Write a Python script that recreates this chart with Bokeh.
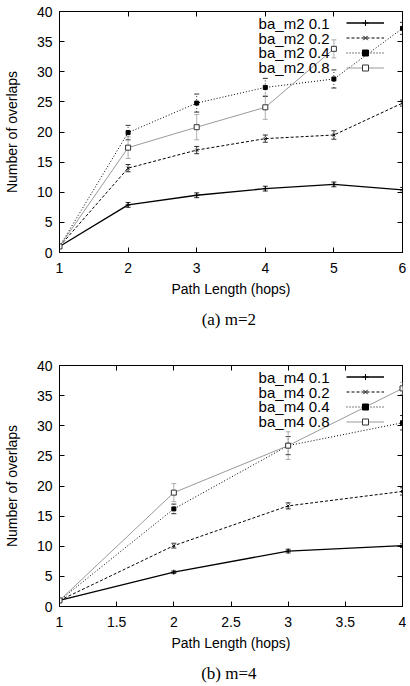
from bokeh.plotting import figure
from bokeh.models import (ColumnDataSource, Whisker, TeeHead, Legend, LegendItem, Label,
                          FixedTicker, LinearAxis, Title, CustomJSTickFormatter, Range1d)
from bokeh.layouts import column
from bokeh.embed import file_html
from bokeh.resources import INLINE

# ---------------- data ----------------
hops_a = [1, 2, 3, 4, 5, 6]
a_01 = [1.0, 7.9, 9.5, 10.6, 11.3, 10.4]
a_01_err = [0.0, 0.4, 0.4, 0.4, 0.4, 0.4]
a_02 = [1.0, 14.0, 17.0, 18.9, 19.5, 24.8]
a_02_err = [0.0, 0.6, 0.6, 0.6, 0.7, 0.5]
a_04 = [1.0, 19.9, 24.8, 27.4, 28.8, 37.2]
a_04_err = [0.0, 1.2, 1.5, 1.5, 1.5, 1.0]
hops_a8 = [1, 2, 3, 4, 5]
a_08 = [1.0, 17.4, 20.8, 24.1, 33.8]
a_08_err = [0.0, 1.8, 2.1, 2.0, 1.5]

hops_b = [1, 2, 3, 4]
b_01 = [1.0, 5.7, 9.2, 10.1]
b_01_err = [0.0, 0.2, 0.3, 0.3]
b_02 = [1.0, 10.1, 16.7, 19.1]
b_02_err = [0.0, 0.4, 0.5, 0.6]
b_04 = [1.0, 16.2, 26.7, 30.5]
b_04_err = [0.0, 0.8, 1.5, 1.2]
b_08 = [1.0, 18.9, 26.7, 36.2]
b_08_err = [0.0, 1.5, 2.3, 1.0]

labels_a = ["ba_m2 0.1", "ba_m2 0.2", "ba_m2 0.4", "ba_m2 0.8"]
labels_b = ["ba_m4 0.1", "ba_m4 0.2", "ba_m4 0.4", "ba_m4 0.8"]
y_ticks = [0, 5, 10, 15, 20, 25, 30, 35, 40]
x_ticks_a = [1, 2, 3, 4, 5, 6]
x_ticks_b = [1, 1.5, 2, 2.5, 3, 3.5, 4]

SANS = "Liberation Sans"
SERIF = "Liberation Serif"

STYLES = [
    dict(color="black", width=1.3, dash="solid", marker="cross", msize=5, fill="black", mline="black"),
    dict(color="black", width=1.0, dash="3 2", marker="x", msize=4, fill="black", mline="black"),
    dict(color="black", width=1.0, dash="1 2", marker="square", msize=4, fill="black", mline="black"),
    dict(color="#9a9a9a", width=1.0, dash="solid", marker="square", msize=5, fill="white", mline="#333333"),
]


def make_plot(xs_list, ys_list, errs_list, labels, xr, xticks, caption, min_top):
    p = figure(output_backend="svg", toolbar_location=None,
               frame_width=343, frame_height=241,
               x_range=Range1d(*xr), y_range=Range1d(0, 40),
               min_border_left=55, min_border_right=4, min_border_top=min_top,
               min_border_bottom=0)
    p.grid.visible = False
    p.background_fill_color = "white"
    p.border_fill_color = "white"
    p.outline_line_color = "black"
    p.outline_line_width = 1

    for ax in [p.xaxis[0], p.yaxis[0]]:
        ax.major_tick_in = 5
        ax.major_tick_out = 0
        ax.minor_tick_line_color = None
        ax.axis_line_color = "black"
        ax.major_tick_line_color = "black"
        ax.major_label_text_font = SANS
        ax.major_label_text_font_size = "14px"
        ax.major_label_text_color = "black"
        ax.axis_label_text_font = SANS
        ax.axis_label_text_font_size = "14px"
        ax.axis_label_text_font_style = "normal"
        ax.axis_label_text_color = "black"

    p.xaxis[0].ticker = FixedTicker(ticks=xticks)
    p.xaxis[0].formatter = CustomJSTickFormatter(code="return tick.toString();")
    p.xaxis[0].axis_label = "Path Length (hops)"
    p.xaxis[0].major_label_standoff = 10
    p.xaxis[0].axis_label_standoff = 5
    p.yaxis[0].ticker = FixedTicker(ticks=y_ticks)
    p.yaxis[0].axis_label = "Number of overlaps"
    p.yaxis[0].major_label_standoff = 7
    p.yaxis[0].axis_label_standoff = 14

    # mirrored ticks (top and right), no labels
    blank = CustomJSTickFormatter(code="return '';")
    top_ax = LinearAxis(ticker=FixedTicker(ticks=xticks), formatter=blank,
                        major_tick_in=5, major_tick_out=0,
                        minor_tick_line_color=None, major_label_standoff=0, axis_line_color=None)
    right_ax = LinearAxis(ticker=FixedTicker(ticks=y_ticks), formatter=blank,
                          major_tick_in=5, major_tick_out=0,
                          minor_tick_line_color=None, major_label_standoff=0, axis_line_color=None)
    p.add_layout(top_ax, "above")
    p.add_layout(right_ax, "right")

    items = []
    for xs, ys, errs, st in zip(xs_list, ys_list, errs_list, STYLES):
        src = ColumnDataSource(dict(x=xs, y=ys,
                                    lo=[v - e for v, e in zip(ys, errs)],
                                    hi=[v + e for v, e in zip(ys, errs)]))
        w = Whisker(base="x", upper="hi", lower="lo", source=src, dimension="height",
                    line_color=st["color"], line_width=0.8, line_dash=st["dash"],
                    upper_head=TeeHead(size=5, line_color=st["color"], line_width=0.8),
                    lower_head=TeeHead(size=5, line_color=st["color"], line_width=0.8))
        p.add_layout(w)
        ln = p.line("x", "y", source=src, line_color=st["color"], line_width=st["width"],
                    line_dash=st["dash"])
        mk = p.scatter("x", "y", source=src, marker=st["marker"], size=st["msize"],
                       fill_color=st["fill"], line_color=st["mline"], line_width=1)
        items.append(LegendItem(label=" ", renderers=[ln, mk]))

    leg = Legend(items=items, location=(287, 241 - 4 - 60), glyph_width=38, glyph_height=15,
                 label_height=15, label_width=0, label_standoff=0, spacing=0, padding=0,
                 margin=0, background_fill_alpha=0, border_line_color=None,
                 label_text_font_size="4px")
    p.add_layout(leg)

    x0, x1 = xr
    tx = x0 + (x1 - x0) * (270.0 / 343.0)
    for i, lab in enumerate(labels):
        ty = 40 - 40 * ((12 + 14.7 * i) / 241.0)
        p.add_layout(Label(x=tx, y=ty, text=lab, text_align="right", text_baseline="middle",
                           text_font=SANS, text_font_size="15px", text_color="black"))

    cap = Title(text=caption, align="center", text_font=SERIF, text_font_size="17px",
                text_font_style="normal", text_color="black", standoff=17)
    p.add_layout(cap, "below")
    return p


p1 = make_plot([hops_a, hops_a, hops_a, hops_a8], [a_01, a_02, a_04, a_08],
               [a_01_err, a_02_err, a_04_err, a_08_err], labels_a, (1, 6), x_ticks_a,
               "(a)  m=2", 11)
p2 = make_plot([hops_b, hops_b, hops_b, hops_b], [b_01, b_02, b_04, b_08],
               [b_01_err, b_02_err, b_04_err, b_08_err], labels_b, (1, 4), x_ticks_b,
               "(b)  m=4", 28)

layout = column(p1, p2, spacing=0)
open("out.html", "w").write(file_html(layout, INLINE))
